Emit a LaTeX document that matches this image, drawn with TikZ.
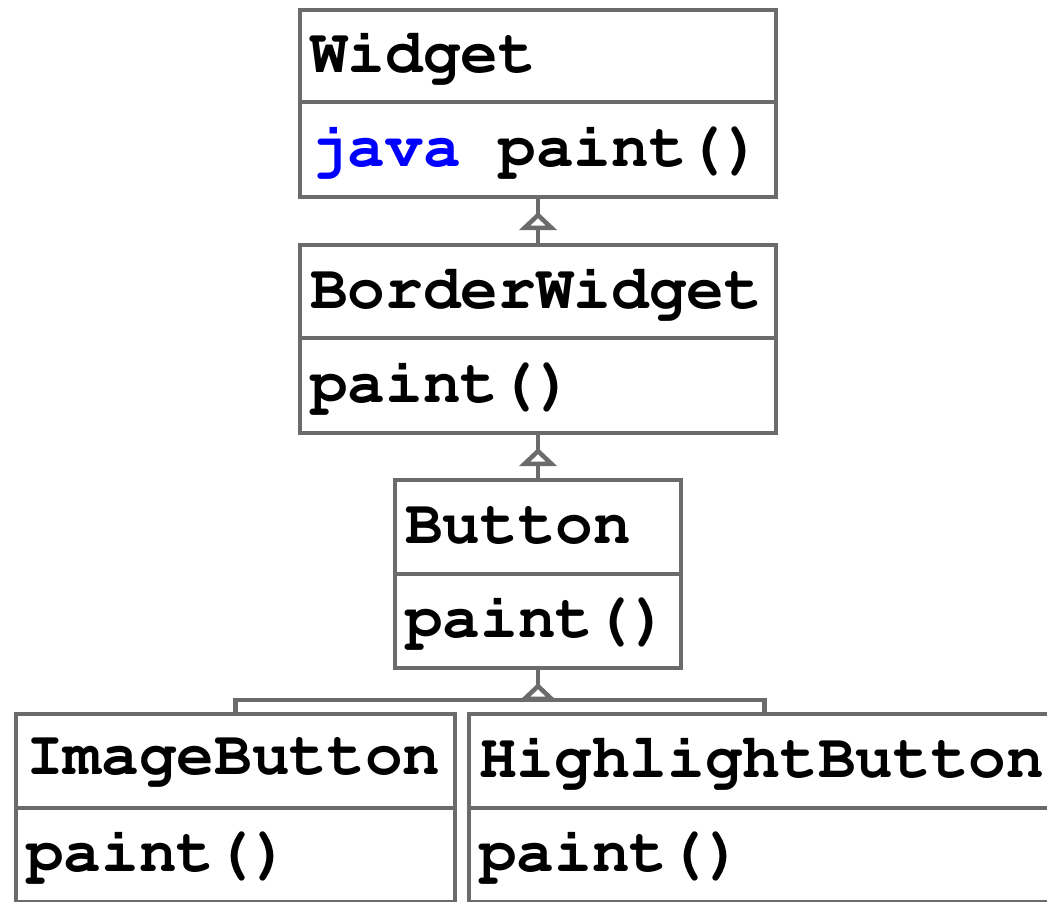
\documentclass[tikz,border=0pt]{standalone}
\usepackage[T1]{fontenc}
\usepackage{fontspec}
\usetikzlibrary{arrows.meta,decorations.markings}
\newcommand\umlfont{\fontencoding{T1}\fontfamily{pcr}\fontseries{b}\fontsize{31.4}{36}\selectfont}
\definecolor{umlgray}{RGB}{107,107,107}
\definecolor{keyblue}{RGB}{0,0,255}
\tikzset{
  classpart/.style 2 args={draw=umlgray, line width=2.3pt, outer sep=0pt, anchor=north west,
    inner xsep=5pt, inner ysep=0pt, text width=#1, minimum height=#2, align=left,
    font=\umlfont},
  umlline/.style={draw=umlgray, line width=2.3pt},
  gen/.style={umlline, postaction={decorate},
    decoration={markings, mark=at position -7.5pt with {\arrow{Triangle[length=9pt, width=18.5pt, fill=white]}}}}
}
\begin{document}
\begin{tikzpicture}[x=0.5pt,y=-0.5pt]
\useasboundingbox (0,0) rectangle (1047,901);

% Widget
\node[classpart={228pt}{46pt}] (widgetName) at (300,10) {Widget};
\node[classpart={228pt}{47.5pt}] (widgetOps) at (widgetName.south west) {\mbox{\textcolor{keyblue}{java}\hspace{0.6em}paint()}};

% BorderWidget
\node[classpart={228pt}{46.5pt}] (borderName) at (300,245) {BorderWidget};
\node[classpart={228pt}{47.5pt}] (borderOps) at (borderName.south west) {paint()};

% Button
\node[classpart={133pt}{47pt}] (buttonName) at (395,480) {Button};
\node[classpart={133pt}{47pt}] (buttonOps) at (buttonName.south west) {paint()};

% ImageButton and HighlightButton
\node[classpart={209.5pt}{47pt}] (imageName) at (16,714) {ImageButton};
\node[classpart={209.5pt}{47pt}] (imageOps) at (imageName.south west) {paint()};
\node[classpart={285.5pt}{47pt}] (highlightName) at (469,714) {HighlightButton};
\node[classpart={285.5pt}{47pt}] (highlightOps) at (highlightName.south west) {paint()};

% generalizations
\draw[gen] (borderName.north) -- (widgetOps.south);
\draw[gen] (buttonName.north) -- (borderOps.south);
\coordinate (fork) at (538,700);
\draw[gen] (fork) -- (buttonOps.south);
\draw[umlline] (imageName.north) |- (fork) -| (highlightName.north);
\end{tikzpicture}
\end{document}
